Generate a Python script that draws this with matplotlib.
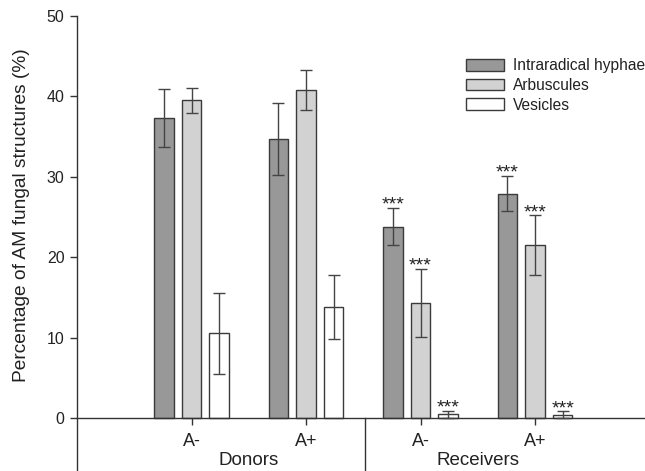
import matplotlib
matplotlib.use("Agg")
import matplotlib.pyplot as plt
import numpy as np

plt.rcParams['font.family'] = ['Liberation Sans', 'DejaVu Sans']

groups = ["A-", "A+", "A-", "A+"]
super_groups = ["Donors", "Receivers"]
series = ["Intraradical hyphae", "Arbuscules", "Vesicles"]
hyphae = [37.3, 34.7, 23.8, 27.9]
hyphae_err = [3.65, 4.5, 2.3, 2.2]
arbus = [39.5, 40.8, 14.3, 21.5]
arbus_err = [1.6, 2.5, 4.2, 3.7]
vesic = [10.5, 13.8, 0.45, 0.4]
vesic_err = [5.1, 4.0, 0.45, 0.4]
signif = [["", "", "***", "***"], ["", "", "***", "***"], ["", "", "***", "***"]]

colors = ["#989898", "#d2d2d2", "#ffffff"]
edge = "#3a3a3a"
txt = "#222222"

fig = plt.figure(figsize=(6.45, 4.71), dpi=100)
ax = fig.add_axes([77/645, 0, 1 - 77/645, 1])

x = np.arange(1, len(groups) + 1)
width = 0.17
offs = [-0.242, 0, 0.242]
vals = [hyphae, arbus, vesic]
errs = [hyphae_err, arbus_err, vesic_err]
for i in range(3):
    ax.bar(x + offs[i], vals[i], width, color=colors[i], edgecolor=edge,
           linewidth=1.0, label=series[i], zorder=2)
    ax.errorbar(x + offs[i], vals[i], yerr=errs[i], fmt='none', ecolor="#444444",
                elinewidth=1.0, capsize=4, capthick=1.0, zorder=3)
    for j in range(len(groups)):
        if signif[i][j]:
            ax.text(x[j] + offs[i], vals[i][j] + errs[i][j] - 0.7, signif[i][j],
                    ha='center', va='bottom', fontsize=14, color=txt)

ymin = -(471 - 418) / 8.02
ymax = 50 + 16 / 8.02
ax.set_ylim(ymin, ymax)
ax.set_xlim(0, (645 - 77) / 114.5)

ax.spines['top'].set_visible(False)
ax.spines['right'].set_visible(False)
ax.spines['bottom'].set_position(('data', 0))
ax.spines['left'].set_bounds(ymin, 50)
for s in ['left', 'bottom']:
    ax.spines[s].set_color("#333333")
    ax.spines[s].set_linewidth(1.0)

ax.set_yticks([0, 10, 20, 30, 40, 50])
ax.tick_params(axis='y', direction='out', length=5, width=1, colors="#333333",
               labelcolor=txt, labelsize=11.5, pad=4)
ax.set_xticks(x)
ax.set_xticklabels(groups)
ax.tick_params(axis='x', direction='out', length=5, width=1, colors="#333333",
               labelcolor=txt, labelsize=13, pad=6)

ax.text(1.5, -5.3, super_groups[0], ha='center', va='center', fontsize=13.5, color=txt)
ax.text(3.5, -5.3, super_groups[1], ha='center', va='center', fontsize=13.5, color=txt)
ax.plot([2.515, 2.515], [0, ymin], color="#333333", lw=1.0, clip_on=False)

fig.text(22/645, 1 - 215/471, "Percentage of AM fungal structures (%)", rotation=90,
         ha='center', va='center', fontsize=13.8, color=txt)

leg = ax.legend(loc='upper left', bbox_to_anchor=((460 - 77) / 568, 1 - 52 / 471),
                frameon=False, fontsize=11.2, handlelength=2.4, handleheight=0.8,
                handletextpad=0.6, labelspacing=0.3, borderaxespad=0)
for t in leg.get_texts():
    t.set_color(txt)

fig.savefig("out.png", dpi=100)
